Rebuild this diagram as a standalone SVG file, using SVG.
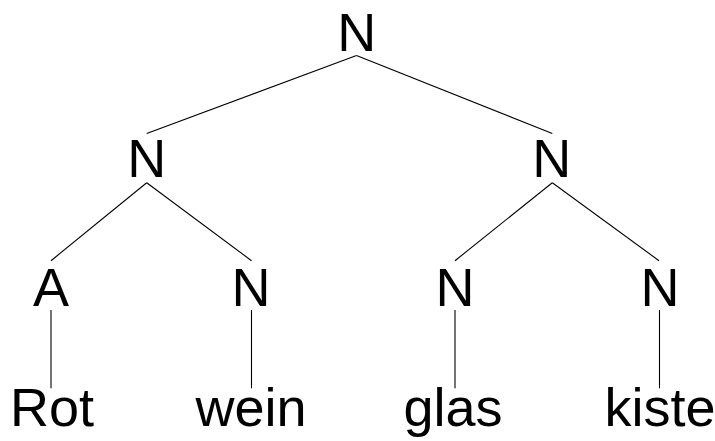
<svg xmlns="http://www.w3.org/2000/svg" width="715" height="441" viewBox="0 0 715 441">
<style>
text{font-family:"Liberation Sans",Arial,sans-serif;font-size:54px;fill:#000;text-anchor:middle}
line{stroke:#000;stroke-width:1.1}
</style>
<rect width="715" height="441" fill="#fff"/>
<g id="connectors">
<line x1="356.5" y1="55.5" x2="146.7" y2="133.5"/>
<line x1="356.5" y1="55.5" x2="552.3" y2="133.5"/>
<line x1="146.7" y1="182.7" x2="51" y2="260.7"/>
<line x1="146.7" y1="182.7" x2="251.5" y2="260.7"/>
<line x1="552.3" y1="182.7" x2="455" y2="260.7"/>
<line x1="552.3" y1="182.7" x2="659" y2="260.7"/>
<line x1="51" y1="310" x2="51" y2="388.3"/>
<line x1="251.5" y1="310" x2="251.5" y2="388.3"/>
<line x1="455" y1="310" x2="455" y2="388.3"/>
<line x1="659.5" y1="310" x2="659.5" y2="388.3"/>
</g>
<g id="root"><text x="356.7" y="51">N</text></g>
<g id="n-left"><text x="146.7" y="177.3">N</text></g>
<g id="n-right"><text x="551.7" y="177.3">N</text></g>
<g id="a"><text x="51" y="305.7">A</text></g>
<g id="n-wein"><text x="251" y="305.7">N</text></g>
<g id="n-glas"><text x="455" y="305.7">N</text></g>
<g id="n-kiste"><text x="660" y="305.7">N</text></g>
<g id="w-rot"><text x="52" y="426">Rot</text></g>
<g id="w-wein"><text x="251" y="426">wein</text></g>
<g id="w-glas"><text x="453" y="426">glas</text></g>
<g id="w-kiste"><text x="660" y="426">kiste</text></g>
</svg>
